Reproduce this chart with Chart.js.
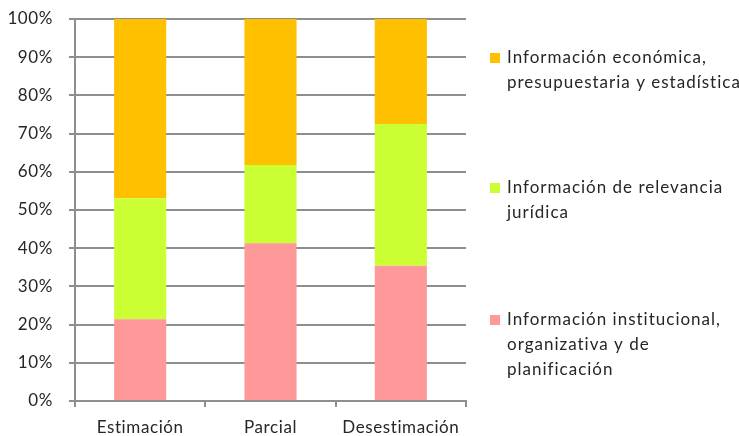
<!DOCTYPE html>
<html>
<head>
<meta charset="utf-8">
<script src="https://cdn.jsdelivr.net/npm/chart.js@4"></script>
<style>
  html, body { margin: 0; padding: 0; background: #fff; }
  #wrap { position: relative; width: 739px; height: 436px; }
</style>
</head>
<body>
<div id="wrap"><canvas id="chart" width="739" height="436"></canvas></div>
<script>
const categories = ['Estimación', 'Parcial', 'Desestimación'];
const institucional = [21.4, 41.3, 35.4];
const juridica = [31.7, 20.5, 37.1];
const economica = [46.9, 38.2, 27.5];
const seriesNames = [
    ['Información institucional,', 'organizativa y de', 'planificación'],
    ['Información de relevancia', 'jurídica'],
    ['Información económica,', 'presupuestaria y estadística'],
];

const textColor = '#262626';
const gridColor = '#8e8e8e';
const fontFamily = 'Lato, "Open Sans", sans-serif';

// a bit of letter spacing, the source text is set wide
const spacing = {
    id: 'spacing',
    beforeDraw(chart) {
        chart.ctx.letterSpacing = '0.6px';
    },
};

// legend drawn next to the plot, top item = last dataset
const sideLegend = {
    id: 'sideLegend',
    afterDraw(chart) {
        const ctx = chart.ctx;
        const tops = [58, 188, 320];
        const lineH = 25;
        const ds = chart.data.datasets.slice().reverse();
        ctx.save();
        ctx.font = '17px ' + fontFamily;
        ctx.letterSpacing = '1px';
        ctx.textBaseline = 'middle';
        ds.forEach((d, i) => {
            const y = tops[i];
            ctx.fillStyle = d.backgroundColor;
            ctx.fillRect(490, y - 5, 10, 10);
            ctx.fillStyle = textColor;
            d.legendLines.forEach((line, j) => {
                ctx.fillText(line, 507, y + j * lineH);
            });
        });
        ctx.restore();
    },
};

new Chart(document.getElementById('chart'), {
    type: 'bar',
    data: {
        labels: categories,
        datasets: [
            { label: seriesNames[0].join(' '), legendLines: seriesNames[0], data: institucional, backgroundColor: '#ff9999' },
            { label: seriesNames[1].join(' '), legendLines: seriesNames[1], data: juridica, backgroundColor: '#ccff33' },
            { label: seriesNames[2].join(' '), legendLines: seriesNames[2], data: economica, backgroundColor: '#ffc000' },
        ],
    },
    options: {
        responsive: false,
        animation: false,
        categoryPercentage: 1,
        barPercentage: 0.4,
        layout: { padding: { top: 19, right: 273, left: 0, bottom: 0 } },
        plugins: {
            legend: { display: false },
            tooltip: { enabled: false },
        },
        scales: {
            x: {
                stacked: true,
                afterFit(scale) {
                    scale.height = 35;
                    scale.paddingLeft = 0;
                    scale.paddingRight = 0;
                },
                grid: {
                    offset: true,
                    drawOnChartArea: false,
                    color: gridColor,
                    lineWidth: 2,
                    tickLength: 6,
                },
                border: { color: gridColor, width: 2 },
                ticks: {
                    color: textColor,
                    font: { family: fontFamily, size: 17 },
                    padding: 10,
                },
            },
            y: {
                stacked: true,
                min: 0,
                max: 100,
                afterFit(scale) {
                    scale.width = 75;
                    scale.paddingTop = 0;
                    scale.paddingBottom = 0;
                },
                grid: {
                    color: gridColor,
                    lineWidth: 2,
                    tickLength: 6,
                },
                border: { color: gridColor, width: 2 },
                ticks: {
                    stepSize: 10,
                    color: textColor,
                    padding: 16,
                    font: { family: fontFamily, size: 17 },
                    callback: v => v + '%',
                },
            },
        },
    },
    plugins: [spacing, sideLegend],
});
</script>
</body>
</html>
